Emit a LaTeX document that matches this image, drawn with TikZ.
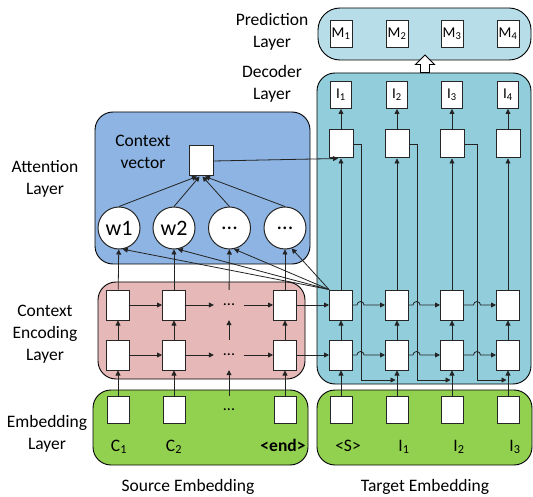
\documentclass[tikz,border=0pt]{standalone}
\usepackage{fontspec}
\setmainfont{Carlito}
\usepackage{tikz}
\usetikzlibrary{arrows.meta, positioning}
\definecolor{predcolor}{RGB}{183,222,232}
\definecolor{deccolor}{RGB}{146,205,220}
\definecolor{attcolor}{RGB}{141,180,226}
\definecolor{enccolor}{RGB}{230,185,184}
\definecolor{embcolor}{RGB}{146,208,80}
\definecolor{linecolor}{RGB}{35,35,35}

\begin{document}
\begin{tikzpicture}[
    x=1pt, y=-1pt,
    panel/.style={draw, line width=0.9pt, rounded corners=18pt, inner sep=0pt},
    cell/.style={draw=black!85, fill=white, line width=1pt, minimum width=23pt, minimum height=30pt, inner sep=0pt},
    embcell/.style={cell, minimum width=22pt, minimum height=27pt},
    outcell/.style={cell, minimum width=22pt, minimum height=27pt, font=\fontsize{15}{15}\selectfont},
    dotcell/.style={minimum width=30pt, minimum height=30pt, inner sep=0pt, font=\fontsize{16}{16}\selectfont},
    wnode/.style={draw=black!85, circle, fill=white, line width=1pt, minimum size=42pt, inner sep=0pt, font=\fontsize{22}{22}\selectfont},
    laytext/.style={align=center, font=\fontsize{17.5}{22}\selectfont},
    tok/.style={anchor=base, font=\fontsize{17.5}{22}\selectfont},
    arrow/.style={-{Triangle[length=5pt, width=5pt]}, line width=0.8pt, linecolor}
]
    \useasboundingbox (0,0) rectangle (533,497);

    % Layer panels
    \node[panel, fill=predcolor, rounded corners=22pt, minimum width=213pt, minimum height=52pt] (predpanel) at (424.5,34) {};
    \node[panel, fill=deccolor, minimum width=214pt, minimum height=311pt] (decpanel) at (424,228.5) {};
    \node[panel, fill=attcolor, minimum width=215pt, minimum height=152pt] (attpanel) at (202.5,188) {};
    \node[panel, fill=enccolor, minimum width=207pt, minimum height=97pt] (encpanel) at (201.5,330.5) {};
    \node[panel, fill=embcolor, minimum width=215pt, minimum height=75pt] (srcpanel) at (200.5,427.5) {};
    \node[panel, fill=embcolor, minimum width=215pt, minimum height=75pt] (tgtpanel) at (424.5,427.5) {};

    % Layer names
    \node[laytext] (predname) at (272,32) {Prediction\\Layer};
    \node[laytext] (decname) at (272,84) {Decoder\\Layer};
    \node[laytext] (attname) at (45,179) {Attention\\Layer};
    \node[laytext] (encname) at (45,334) {Context\\Encoding\\Layer};
    \node[laytext] (embname) at (47,434) {Embedding\\Layer};
    \node[laytext] (cvname) at (143,152) {Context\\vector};
    \node[laytext] (srcname) at (188,487) {Source Embedding};
    \node[laytext] (tgtname) at (425,487) {Target Embedding};

    % Prediction layer
    \node[outcell] (m1) at (341,34) {M\textsubscript{1}};
    \node[outcell] (m2) at (397,34) {M\textsubscript{2}};
    \node[outcell] (m3) at (452,34) {M\textsubscript{3}};
    \node[outcell] (m4) at (508,34) {M\textsubscript{4}};

    % Hollow arrow from decoder up to prediction
    \coordinate (upbase) at (decpanel.north -| 425,0);
    \draw[line width=0.9pt, fill=white] (upbase) ++(-4.5,0) -- ++(0,-8) -- ++(-5,0) -- ++(9.5,-9.5)
        -- ++(9.5,9.5) -- ++(-5,0) -- ++(0,8) -- cycle;

    % Decoder outputs
    \node[outcell, minimum width=21pt] (o1) at (341,95) {I\textsubscript{1}};
    \node[outcell, minimum width=21pt] (o2) at (397,95) {I\textsubscript{2}};
    \node[outcell, minimum width=21pt] (o3) at (452,95) {I\textsubscript{3}};
    \node[outcell, minimum width=21pt] (o4) at (508,95) {I\textsubscript{4}};

    % Decoder cells
    \node[cell, minimum width=24pt, minimum height=28pt] (t1) at (341,144) {};
    \node[cell, minimum width=24pt, minimum height=28pt] (t2) at (397,144) {};
    \node[cell, minimum width=24pt, minimum height=28pt] (t3) at (452,144) {};
    \node[cell, minimum width=24pt, minimum height=28pt] (t4) at (508,144) {};
    \node[cell] (d1u) at (341,305) {};
    \node[cell] (d2u) at (397,305) {};
    \node[cell] (d3u) at (452,305) {};
    \node[cell] (d4u) at (508,305) {};
    \node[cell] (d1l) at (341,355) {};
    \node[cell] (d2l) at (397,355) {};
    \node[cell] (d3l) at (452,355) {};
    \node[cell] (d4l) at (508,355) {};

    % Attention layer
    \node[cell, minimum width=24pt] (cv) at (201,161) {};
    \node[wnode] (w1) at (119,228) {w1};
    \node[wnode] (w2) at (174,228) {w2};
    \node[wnode] (w3) at (229.5,228) {...};
    \node[wnode] (w4) at (285,228) {...};

    % Context encoding cells
    \node[cell] (e1u) at (118,305) {};
    \node[cell] (e2u) at (174,305) {};
    \node[dotcell] (e3u) at (229,305) {...};
    \node[cell] (e4u) at (285,305) {};
    \node[cell] (e1l) at (118,355) {};
    \node[cell] (e2l) at (174,355) {};
    \node[dotcell] (e3l) at (229,355) {...};
    \node[cell] (e4l) at (285,355) {};

    % Embedding cells
    \node[embcell] (s1) at (118,410) {};
    \node[embcell] (s2) at (174,410) {};
    \node[dotcell, minimum height=27pt] (s3) at (229,410) {...};
    \node[embcell] (s4) at (285,410) {};
    \node[embcell] (g1) at (341,410) {};
    \node[embcell] (g2) at (397,410) {};
    \node[embcell] (g3) at (452,410) {};
    \node[embcell] (g4) at (508,410) {};

    % Tokens
    \node[tok] (c1) at (119,451) {C\textsubscript{1}};
    \node[tok] (c2) at (174,451) {C\textsubscript{2}};
    \node[tok] (cend) at (283,451) {\textbf{<end>}};
    \node[tok] (start) at (348,451) {<S>};
    \node[tok] (i1) at (404,451) {I\textsubscript{1}};
    \node[tok] (i2) at (459,451) {I\textsubscript{2}};
    \node[tok] (i3) at (515,451) {I\textsubscript{3}};

    % Source side
    \draw[arrow] (s1) -- (e1l);
    \draw[arrow] (s2) -- (e2l);
    \draw[arrow] (s3) -- (e3l);
    \draw[arrow] (s4) -- (e4l);
    \draw[arrow] (e1l) -- (e1u);
    \draw[arrow] (e2l) -- (e2u);
    \draw[arrow] (e3l) -- (e3u);
    \draw[arrow] (e4l) -- (e4u);
    \draw[arrow] (e1l) -- (e2l);
    \draw[arrow] (e2l) -- (e3l);
    \draw[arrow] (e3l) -- (e4l);
    \draw[arrow] (e1u) -- (e2u);
    \draw[arrow] (e2u) -- (e3u);
    \draw[arrow] (e3u) -- (e4u);
    \draw[arrow] (e1u) -- (w1);
    \draw[arrow] (e2u) -- (w2);
    \draw[arrow] (e3u) -- (w3);
    \draw[arrow] (e4u) -- (w4);

    % Weights to context vector
    \draw[arrow] (w1.north) -- ([xshift=-4pt]cv.south);
    \draw[arrow] (w2.north) -- ([xshift=-1.5pt]cv.south);
    \draw[arrow] (w3.north) -- ([xshift=1.5pt]cv.south);
    \draw[arrow] (w4.north) -- ([xshift=4pt]cv.south);
    \draw[arrow] (cv.east) -- ([xshift=-3pt]t1.south);

    % Encoder states into decoder
    \draw[arrow] (e4u) -- (d1u);
    \draw[arrow] (e4l) -- (d1l);

    % Attention scores
    \draw[arrow] (d1u.north west) -- (w1.-80);
    \draw[arrow] (d1u.north west) -- (w2.-80);
    \draw[arrow] (d1u.north west) -- (w3.-78);
    \draw[arrow] (d1u.north west) -- (w4.-72);

    % Decoder columns
    \draw[arrow] (g1) -- (d1l);
    \draw[arrow] (g2) -- (d2l);
    \draw[arrow] (g3) -- (d3l);
    \draw[arrow] (g4) -- (d4l);
    \draw[arrow] (d1l) -- (d1u);
    \draw[arrow] (d2l) -- (d2u);
    \draw[arrow] (d3l) -- (d3u);
    \draw[arrow] (d4l) -- (d4u);
    \draw[arrow] (d1u) -- (t1);
    \draw[arrow] (d2u) -- (t2);
    \draw[arrow] (d3u) -- (t3);
    \draw[arrow] (d4u) -- (t4);
    \draw[arrow] (t1) -- (o1);
    \draw[arrow] (t2) -- (o2);
    \draw[arrow] (t3) -- (o3);
    \draw[arrow] (t4) -- (o4);

    % Feedback of previous output
    \coordinate (f2) at (395.5,380);
    \coordinate (f3) at (450.5,380);
    \coordinate (f4) at (506.5,380);
    \draw[arrow] (t1.east) -- ++(7.5,0) |- (f2);
    \draw[arrow] (t2.east) -- ++(7.5,0) |- (f3);
    \draw[arrow] (t3.east) -- ++(13,0) |- (f4);

    % Decoder recurrence, hopping over feedback
    \draw[arrow] (d1u.east) -- ++(4,0) arc[start angle=180, end angle=360, radius=3.5] -- (d2u.west);
    \draw[arrow] (d2u.east) -- ++(4,0) arc[start angle=180, end angle=360, radius=3.5] -- (d3u.west);
    \draw[arrow] (d3u.east) -- ++(9.5,0) arc[start angle=180, end angle=360, radius=3.5] -- (d4u.west);
    \draw[arrow] (d1l.east) -- ++(4,0) arc[start angle=180, end angle=360, radius=3.5] -- (d2l.west);
    \draw[arrow] (d2l.east) -- ++(4,0) arc[start angle=180, end angle=360, radius=3.5] -- (d3l.west);
    \draw[arrow] (d3l.east) -- ++(9.5,0) arc[start angle=180, end angle=360, radius=3.5] -- (d4l.west);
\end{tikzpicture}
\end{document}
